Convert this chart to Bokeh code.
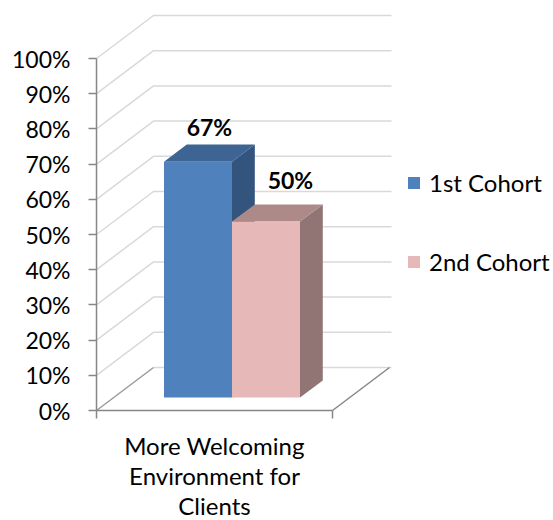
from bokeh.plotting import figure
from bokeh.models import LinearAxis, FixedTicker, Range1d, Legend, LegendItem
from bokeh.core.properties import value
from bokeh.embed import file_html
from bokeh.resources import INLINE

# ---- data ----
category_lines = ["More Welcoming", "Environment for", "Clients"]
series_names = ["1st Cohort", "2nd Cohort"]
series_values = [67, 50]
value_labels = ["67%", "50%"]
y_ticks = [0, 10, 20, 30, 40, 50, 60, 70, 80, 90, 100]

# ---- layout / style ----
W, H = 553, 520
PX_X = 236.0           # pixels per category width
PX_Y = 3.52            # pixels per percent
X0_PAGE, Y0_PAGE = 96.0, 410.0
DEPTH_DX, DEPTH_DY = 57.0 / PX_X, 43.0 / PX_Y   # projection of unit depth
WALL_END = 1 + 2.0 / PX_X
FONT = "Lato"

def px(x, z=0.0):
    return x + z * DEPTH_DX

def py(y, z=0.0):
    return y + z * DEPTH_DY

p = figure(width=W, height=H, output_backend="svg", toolbar_location=None,
           x_range=Range1d(-X0_PAGE / PX_X, (W - X0_PAGE) / PX_X),
           y_range=Range1d((Y0_PAGE - H) / PX_Y, Y0_PAGE / PX_Y),
           x_axis_type=None, y_axis_type=None, min_border=0)
p.outline_line_color = None
p.grid.visible = False

# back wall gridlines and side wall lines
for v in y_ticks:
    if v == 0:
        continue
    p.line([px(0, 0), px(0, 1), px(WALL_END, 1)], [py(v, 0), py(v, 1), py(v, 1)],
           line_color="#d9d9d9", line_width=1.5)
# floor
p.line([px(0, 1), px(WALL_END, 1)], [py(0, 1), py(0, 1)], line_color="#d9d9d9", line_width=1.5)
p.line([px(0, 0), px(0, 1)], [py(0, 0), py(0, 1)], line_color="#9a9a9a", line_width=1.5)
p.line([px(1, 0), px(1, 1)], [py(0, 0), py(0, 1)], line_color="#868686", line_width=1.5)

# bars
BAR_X0, BAR_W = 0.2136, 0.2881
Z0, Z1 = 0.30, 0.70
front_cols = ["#4f81bd", "#e6b8b7"]
top_cols = ["#3d6492", "#ad8a88"]
side_cols = ["#33547d", "#917474"]
fronts = []
for i, v in enumerate(series_values):
    a = BAR_X0 + i * BAR_W
    b = a + BAR_W
    p.patch([px(b, Z0), px(b, Z1), px(b, Z1), px(b, Z0)],
            [py(0, Z0), py(0, Z1), py(v, Z1), py(v, Z0)], fill_color=side_cols[i], line_color=None)
    p.patch([px(a, Z0), px(b, Z0), px(b, Z1), px(a, Z1)],
            [py(v, Z0), py(v, Z0), py(v, Z1), py(v, Z1)], fill_color=top_cols[i], line_color=None)
    fronts.append(p.patch([px(a, Z0), px(b, Z0), px(b, Z0), px(a, Z0)],
                          [py(0, Z0), py(0, Z0), py(v, Z0), py(v, Z0)],
                          fill_color=front_cols[i], line_color=None))

# value labels: anchored above the centre of each bar's top
LABEL_DX = [0.0, 13.0 / PX_X]
LABEL_DY = [26.0 / PX_Y, 33.0 / PX_Y]
for i, v in enumerate(series_values):
    c = BAR_X0 + (i + 0.5) * BAR_W
    zc = (Z0 + Z1) / 2
    p.text([px(c, zc) + LABEL_DX[i]], [py(v, zc) + LABEL_DY[i]], text=[value_labels[i]],
           text_font=value(FONT), text_font_size="23px", text_font_style="bold",
           text_color="#000000", text_align="center", text_baseline="middle")

# axes
yax = LinearAxis(fixed_location=0, ticker=FixedTicker(ticks=y_ticks), bounds=(0, 100),
                 major_label_overrides={t: f"{t}%" for t in y_ticks})
yax.axis_line_color = "#868686"
yax.axis_line_width = 1.5
yax.major_tick_line_color = "#868686"
yax.major_tick_line_width = 1.5
yax.major_tick_in = 0
yax.major_tick_out = 8
yax.minor_tick_line_color = None
yax.major_label_text_font = FONT
yax.major_label_text_font_size = "23px"
yax.major_label_text_color = "#000000"
yax.major_label_standoff = 18
p.add_layout(yax, "left")

xax = LinearAxis(fixed_location=0, ticker=FixedTicker(ticks=[], minor_ticks=[0, 1]), bounds=(0, 1))
xax.axis_line_color = "#868686"
xax.axis_line_width = 1.5
xax.minor_tick_line_color = "#868686"
xax.minor_tick_line_width = 1.5
xax.minor_tick_in = 0
xax.minor_tick_out = 8
xax.major_label_text_font_size = "0px"
p.add_layout(xax, "below")

# category label, one text per line
LINE_STEP = 30.0 / PX_Y
FIRST_LINE = -35.0 / PX_Y
for i, line in enumerate(category_lines):
    p.text([0.5], [FIRST_LINE - i * LINE_STEP], text=[line], text_font=value(FONT),
           text_font_size="24px", text_color="#000000", text_align="center", text_baseline="middle")

legend = Legend(items=[LegendItem(label=n, renderers=[r]) for n, r in zip(series_names, fronts)],
                location=(406, 244), orientation="vertical", spacing=50, padding=0, margin=0,
                glyph_width=15, glyph_height=15, label_standoff=8,
                label_text_font=FONT, label_text_font_size="24px", label_text_color="#000000",
                label_height=22, border_line_color=None, background_fill_alpha=0)
p.add_layout(legend)

open("out.html", "w").write(file_html(p, INLINE))
